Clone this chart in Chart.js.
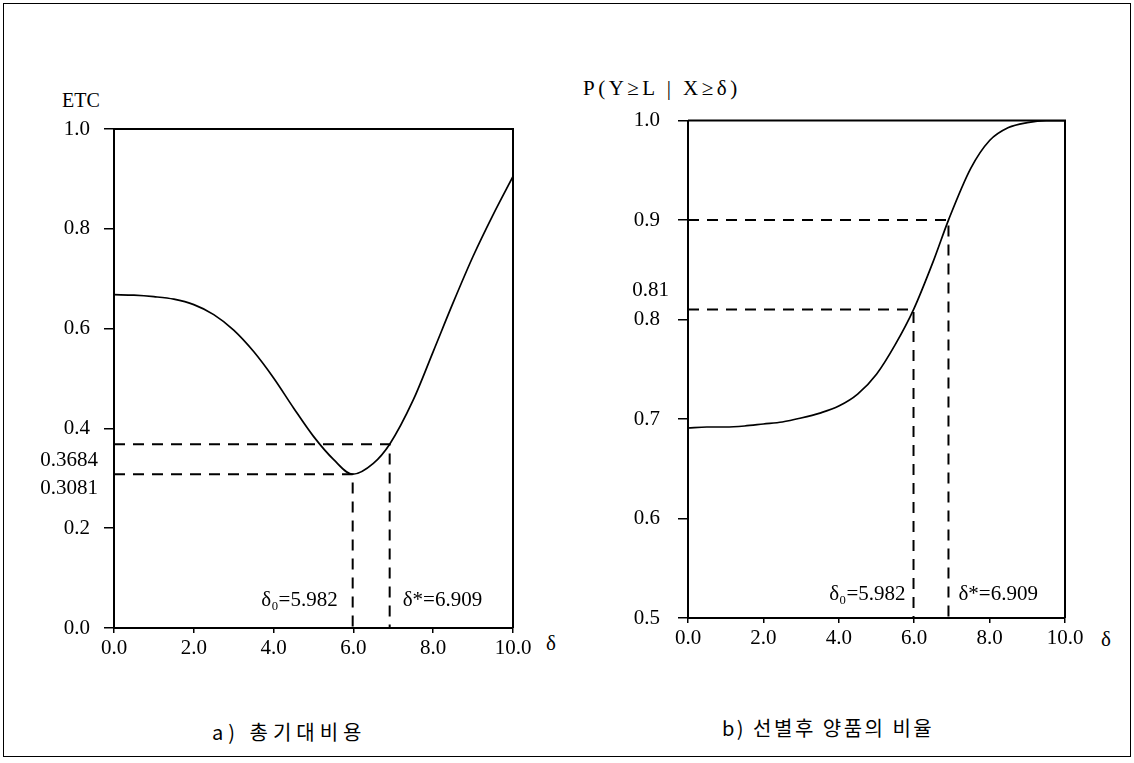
<!DOCTYPE html>
<html>
<head>
<meta charset="utf-8">
<script src="https://cdn.jsdelivr.net/npm/chart.js@4"></script>
<style>
  body { margin: 0; background: #fff; width: 1134px; height: 763px; overflow: hidden; }
  .box { position: absolute; }
  .txt { position: absolute; font-family: "Liberation Serif", serif; font-size: 21px; color: #000; white-space: nowrap; line-height: 24px; }
  .cap { position: absolute; font-family: "Noto Sans CJK KR", sans-serif; font-size: 20px; color: #000; white-space: nowrap; line-height: 26px; }
</style>
</head>
<body>
<div class="box" style="left:3px;top:3px;width:1126px;height:752px;border:1px solid #000"></div>
<div class="txt" style="left:62px;top:88px;font-size:20px">ETC</div>
<div class="txt" style="left:583px;top:76px;letter-spacing:3.5px">P(Y≥L | X≥δ)</div>
<div class="txt" style="left:546px;top:631px">δ</div>
<div class="txt" style="left:1101px;top:627px">δ</div>
<div class="box" style="left:40px;top:100px;width:500px;height:560px"><canvas id="chartA"></canvas></div>
<div class="box" style="left:620px;top:90px;width:480px;height:560px"><canvas id="chartB"></canvas></div>
<div class="cap" style="left:212px;top:719px;letter-spacing:5px">a) 총기대비용</div>
<div class="cap" style="left:722px;top:715px;letter-spacing:2.5px">b) 선별후 양품의 비율</div>
<script>
// a) expected total cost
const deltaA = [0, 0.5, 1, 1.5, 2, 2.5, 3, 3.5, 4, 4.5, 5, 5.5, 5.982, 6.5, 6.909, 7.5, 8, 8.5, 9, 9.5, 10];
const etc = [0.668, 0.667, 0.664, 0.659, 0.648, 0.628, 0.597, 0.554, 0.501, 0.441, 0.384, 0.338, 0.3081, 0.330, 0.3684, 0.457, 0.554, 0.652, 0.745, 0.828, 0.905];
// b) ratio of good items after screening
const deltaB = [0, 0.5, 1, 1.5, 2, 2.5, 3, 3.5, 4, 4.5, 5, 5.5, 5.982, 6.5, 6.909, 7.5, 8, 8.5, 9, 9.5, 10];
const prob = [0.691, 0.692, 0.692, 0.693, 0.695, 0.697, 0.701, 0.706, 0.713, 0.725, 0.745, 0.775, 0.81, 0.858, 0.90, 0.952, 0.98, 0.993, 0.998, 1.0, 1.0];

const delta0 = 5.982;
const deltaStar = 6.909;
const etcAt0 = 0.3081;
const etcAtStar = 0.3684;
const probAt0 = 0.81;
const probAtStar = 0.9;

const xTicks = [0, 2, 4, 6, 8, 10];
const yTicksA = [0, 0.2, 0.4, 0.6, 0.8, 1.0];
const yTicksB = [0.5, 0.6, 0.7, 0.8, 0.9, 1.0];

const serifFont = { family: '"Liberation Serif", serif', size: 21 };
const serif = '21px "Liberation Serif", serif';

// box top/right edges, extra labels and delta notes
const notesPlugin = {
  id: 'notes',
  afterDraw(chart, args, o) {
    const ctx = chart.ctx, a = chart.chartArea;
    const xs = chart.scales.x, ys = chart.scales.y;
    ctx.save();
    ctx.strokeStyle = '#000';
    ctx.lineWidth = 2;
    ctx.beginPath();
    ctx.moveTo(a.left, a.top);
    ctx.lineTo(a.right, a.top);
    ctx.lineTo(a.right, a.bottom);
    ctx.stroke();
    ctx.fillStyle = '#000';
    ctx.font = serif;
    ctx.textBaseline = 'middle';
    ctx.textAlign = 'right';
    o.labels.forEach(l => ctx.fillText(l.text, a.left - l.dx, ys.getPixelForValue(l.v) + l.dy));
    o.marks.forEach(m => {
      const px = xs.getPixelForValue(m.x);
      ctx.textAlign = m.side === 'left' ? 'right' : 'left';
      ctx.fillText(m.text, px + (m.side === 'left' ? -m.gap : m.gap), a.bottom - o.markRise);
    });
    ctx.restore();
  }
};

function pts(xs, ys) { return xs.map((x, i) => ({ x: x, y: ys[i] })); }

function makeChart(id, xv, yv, guides, yTicks, ymin, ymax, yWidth, yPad, pad, notes) {
  const dashed = guides.map(g => ({
    data: g,
    borderColor: '#000',
    borderWidth: 2,
    borderDash: [11, 8],
    pointRadius: 0,
    fill: false
  }));
  return new Chart(document.getElementById(id).getContext('2d'), {
    type: 'line',
    data: {
      datasets: [{
        data: pts(xv, yv),
        borderColor: '#000',
        borderWidth: 1.7,
        pointRadius: 0,
        cubicInterpolationMode: 'monotone',
        fill: false
      }].concat(dashed)
    },
    options: {
      responsive: true,
      maintainAspectRatio: false,
      animation: false,
      layout: { padding: pad },
      plugins: { legend: { display: false }, tooltip: { enabled: false }, notes: notes },
      scales: {
        x: {
          type: 'linear',
          min: 0,
          max: 10,
          afterBuildTicks: s => { s.ticks = xTicks.map(v => ({ value: v })); },
          afterFit: s => { s.height = 32; },
          ticks: { color: '#000', font: serifFont, padding: 3, maxRotation: 0, callback: v => v.toFixed(1) },
          grid: { drawOnChartArea: false, drawTicks: true, tickLength: 5, color: '#000', lineWidth: 1.5 },
          border: { display: true, color: '#000', width: 2 }
        },
        y: {
          type: 'linear',
          min: ymin,
          max: ymax,
          afterBuildTicks: s => { s.ticks = yTicks.map(v => ({ value: v })); },
          afterFit: s => { s.width = yWidth; },
          ticks: { color: '#000', font: serifFont, padding: yPad, callback: v => v.toFixed(1) },
          grid: { drawOnChartArea: false, drawTicks: true, tickLength: 10, color: '#000', lineWidth: 1.5 },
          border: { display: true, color: '#000', width: 2 }
        }
      }
    },
    plugins: [notesPlugin]
  });
}

makeChart('chartA', deltaA, etc,
  [
    [{ x: 0, y: etcAtStar }, { x: deltaStar, y: etcAtStar }, { x: deltaStar, y: 0 }],
    [{ x: 0, y: etcAt0 }, { x: delta0, y: etcAt0 }, { x: delta0, y: 0 }]
  ],
  yTicksA, 0, 1, 74, 14, { left: 0, top: 29, right: 27, bottom: 0 },
  {
    labels: [{ v: etcAtStar, text: '0.3684', dx: 16, dy: 16 }, { v: etcAt0, text: '0.3081', dx: 16, dy: 14 }],
    marks: [{ x: delta0, text: 'δ₀=5.982', side: 'left', gap: 15 }, { x: deltaStar, text: 'δ*=6.909', side: 'right', gap: 13 }],
    markRise: 28
  });

makeChart('chartB', deltaB, prob,
  [
    [{ x: 0, y: probAtStar }, { x: deltaStar, y: probAtStar }, { x: deltaStar, y: 0.5 }],
    [{ x: 0, y: probAt0 }, { x: delta0, y: probAt0 }, { x: delta0, y: 0.5 }]
  ],
  yTicksB, 0.5, 1, 68, 18, { left: 0, top: 27, right: 35, bottom: 0 },
  {
    labels: [{ v: probAt0, text: '0.81', dx: 19, dy: -19 }],
    marks: [{ x: delta0, text: 'δ₀=5.982', side: 'left', gap: 8 }, { x: deltaStar, text: 'δ*=6.909', side: 'right', gap: 10 }],
    markRise: 24
  });
</script>
</body>
</html>
